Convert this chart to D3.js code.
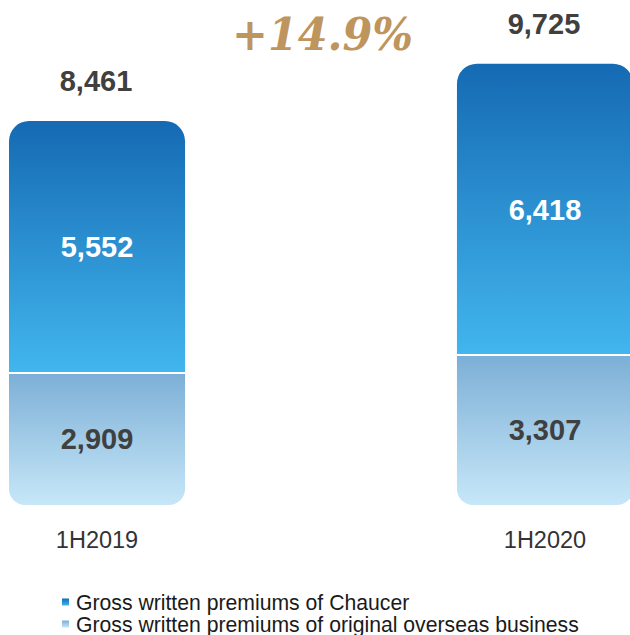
<!DOCTYPE html>
<html><head><meta charset="utf-8">
<script src="https://cdn.jsdelivr.net/npm/d3@7"></script>
<style>html,body{margin:0;padding:0;background:#fff;}svg{display:block;}</style>
</head><body>
<svg id="chart" width="630" height="635"></svg>
<script>
const categories = ["1H2019", "1H2020"];
const overseas = [2909, 3307];
const chaucer = [5552, 6418];
const totals = [8461, 9725];
const growthLabel = "+14.9%";
const legendLabels = ["Gross written premiums of Chaucer", "Gross written premiums of original overseas business"];

const svg = d3.select("#chart");
const defs = svg.append("defs");
function grad(id, c1, c2) {
  const g = defs.append("linearGradient").attr("id", id).attr("x1", 0).attr("y1", 0).attr("x2", 0).attr("y2", 1);
  g.append("stop").attr("offset", "0%").attr("stop-color", c1);
  g.append("stop").attr("offset", "100%").attr("stop-color", c2);
}
grad("gTop", "#156AB3", "#42B6EE");
grad("gBot", "#7CAFD6", "#C7E7F8");

const x = d3.scaleBand().domain(categories).range([9, 633]).paddingInner(0.607).paddingOuter(0);
const y = d3.scaleLinear().domain([0, 10000]).range([505, 51.2]);
const bw = x.bandwidth();

function roundedRect(x0, y0, w, h, rt, rb) {
  const p = d3.path();
  p.moveTo(x0 + rt, y0);
  p.lineTo(x0 + w - rt, y0);
  p.arcTo(x0 + w, y0, x0 + w, y0 + rt, rt);
  p.lineTo(x0 + w, y0 + h - rb);
  if (rb > 0) p.arcTo(x0 + w, y0 + h, x0 + w - rb, y0 + h, rb); else p.lineTo(x0 + w, y0 + h);
  p.lineTo(x0 + rb, y0 + h);
  if (rb > 0) p.arcTo(x0, y0 + h, x0, y0 + h - rb, rb); else p.lineTo(x0, y0 + h);
  p.lineTo(x0, y0 + rt);
  if (rt > 0) p.arcTo(x0, y0, x0 + rt, y0, rt);
  p.closePath();
  return p.toString();
}

categories.forEach((c, i) => {
  const x0 = x(c);
  const yBase = y(0), ySplit = y(overseas[i]), yTop = y(overseas[i] + chaucer[i]);
  svg.append("path").attr("d", roundedRect(x0, ySplit, bw, yBase - ySplit, 0, 16)).attr("fill", "url(#gBot)");
  svg.append("path").attr("d", roundedRect(x0, yTop, bw, ySplit - yTop, 20, 0)).attr("fill", "url(#gTop)");
  svg.append("line").attr("x1", x0).attr("x2", x0 + bw).attr("y1", ySplit).attr("y2", ySplit)
    .attr("stroke", "#fff").attr("stroke-width", 2);
  const cx = x0 + bw / 2;
  svg.append("text").attr("x", cx).attr("y", (yTop + ySplit) / 2).attr("dy", "0.36em")
    .attr("text-anchor", "middle").attr("font-family", "Liberation Sans, Arial, sans-serif")
    .attr("font-weight", "bold").attr("font-size", 29).attr("fill", "#ffffff")
    .text(d3.format(",")(chaucer[i]));
  svg.append("text").attr("x", cx).attr("y", (ySplit + yBase) / 2).attr("dy", "0.36em")
    .attr("text-anchor", "middle").attr("font-family", "Liberation Sans, Arial, sans-serif")
    .attr("font-weight", "bold").attr("font-size", 29).attr("fill", "#404040")
    .text(d3.format(",")(overseas[i]));
  svg.append("text").attr("x", cx - 1).attr("y", yTop - 30)
    .attr("text-anchor", "middle").attr("font-family", "Liberation Sans, Arial, sans-serif")
    .attr("font-weight", "bold").attr("font-size", 29).attr("fill", "#404040")
    .text(d3.format(",")(totals[i]));
  svg.append("text").attr("x", cx).attr("y", 548)
    .attr("text-anchor", "middle").attr("font-family", "Liberation Sans, Arial, sans-serif")
    .attr("font-size", 23.5).attr("fill", "#333333")
    .text(c);
});

svg.append("text").attr("x", 232).attr("y", 50)
  .attr("font-family", "DejaVu Serif, serif")
  .attr("font-style", "italic").attr("font-weight", "bold").attr("font-size", 44)
  .attr("fill", "#BE955C").attr("textLength", 181).attr("lengthAdjust", "spacingAndGlyphs")
  .text(growthLabel);

const legend = svg.append("g");
const legendFills = ["url(#gTop)", "url(#gBot)"];
legendLabels.forEach((t, i) => {
  const ly = 602 + i * 22;
  legend.append("rect").attr("x", 62).attr("y", ly - 3.5).attr("width", 7).attr("height", 7).attr("fill", legendFills[i]);
  legend.append("text").attr("x", 76).attr("y", ly + 1).attr("dy", "0.35em")
    .attr("font-family", "Liberation Sans, Arial, sans-serif").attr("font-size", 21.2).attr("fill", "#1a1a1a")
    .text(t);
});
</script>
</body></html>
